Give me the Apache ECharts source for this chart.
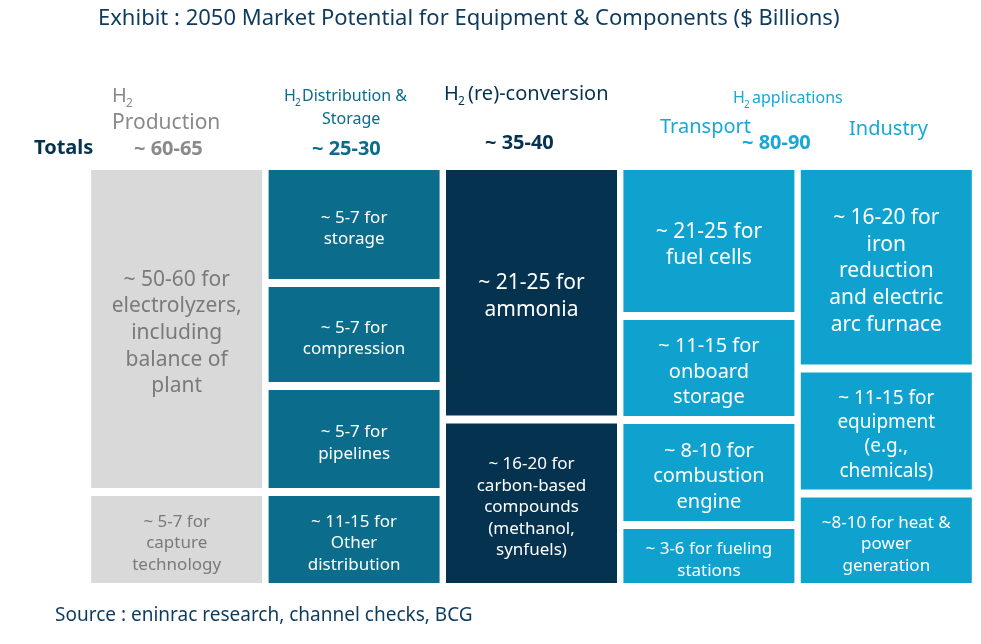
<!DOCTYPE html>
<html lang="en" style="height: 100%">
<head>
  <meta charset="utf-8">
</head>
<body style="height: 100%; margin: 0; background: #fff">
  <div id="container" style="height: 100%"></div>
  <script type="text/javascript" src="https://fastly.jsdelivr.net/npm/echarts@6.0.0/dist/echarts.min.js"></script>
  <script type="text/javascript">
    var dom = document.getElementById('container');
    var myChart = echarts.init(dom, null, { renderer: 'canvas' });

    // columns, left to right
    var columns = ['Production', 'Distribution', 'Conversion', 'Transport', 'Industry'];
    var colColors = ['#d9d9d9', '#0b6c8c', '#05324f', '#10a2cf', '#10a2cf'];
    var textColors = ['#7a7a7a', '#ffffff', '#ffffff', '#ffffff', '#ffffff'];

    // box sizes per column (top to bottom), as drawn in the exhibit
    var boxSizes = [
      [326, 95],
      [117, 103, 106, 95],
      [253.5, 167.5],
      [150, 104, 105, 62],
      [202.5, 125, 93.5]
    ];
    var boxLabels = [
      ['~ 50-60 for\nelectrolyzers,\nincluding\nbalance of\nplant', '~ 5-7 for\ncapture\ntechnology'],
      ['~ 5-7 for\nstorage', '~ 5-7 for\ncompression', '~ 5-7 for\npipelines', '~ 11-15 for\nOther\ndistribution'],
      ['~ 21-25 for\nammonia', '~ 16-20 for\ncarbon-based\ncompounds\n(methanol,\nsynfuels)'],
      ['~ 21-25 for\nfuel cells', '~ 11-15 for\nonboard\nstorage', '~ 8-10 for\ncombustion\nengine', '~ 3-6 for fueling\nstations'],
      ['~ 16-20 for\niron\nreduction\nand electric\narc furnace', '~ 11-15 for\nequipment\n(e.g.,\nchemicals)', '~8-10 for heat &\npower\ngeneration']
    ];
    var boxFont = [
      [21, 17],
      [17, 17, 17, 17],
      [21, 17],
      [21, 20, 20, 17],
      [21, 19, 17]
    ];

    var series = [];
    for (var level = 0; level < 4; level++) {
      var data = [];
      for (var c = 0; c < columns.length; c++) {
        var v = boxSizes[c][level];
        if (v === undefined) { data.push(null); continue; }
        data.push({
          value: v,
          name: boxLabels[c][level],
          itemStyle: { color: colColors[c] },
          label: { color: textColors[c], fontSize: boxFont[c][level], lineHeight: boxFont[c][level] * 1.27 }
        });
      }
      series.push({
        type: 'bar',
        stack: 'all',
        barWidth: 179,
        data: data,
        itemStyle: { borderColor: '#ffffff', borderWidth: 4 },
        label: {
          show: true,
          position: 'inside',
          offset: [0, 4],
          formatter: function (p) { return p.name; },
          fontFamily: 'Noto Sans'
        },
        silent: true
      });
    }

    var font = 'Noto Sans';
    function txt(x, y, text, size, color, weight, align) {
      return {
        type: 'text', left: x, top: y,
        style: { text: text, fontSize: size, fill: color, fontFamily: font, fontWeight: weight || 'normal', textAlign: align || 'left' }
      };
    }

    var option = {
      animation: false,
      grid: { left: 88, right: 6, top: 166, bottom: 57 },
      xAxis: { type: 'category', data: columns, show: false },
      yAxis: { type: 'value', inverse: true, min: 0, max: 421, show: false },
      series: series,
      graphic: [
        txt(98, 8, 'Exhibit : 2050 Market Potential for Equipment & Components ($ Billions)', 22, '#0d3b5e'),
        txt(112, 86, 'H', 20, '#8a8a8a'), txt(126, 98, '2', 12, '#8a8a8a'),
        txt(112, 113, 'Production', 21, '#8a8a8a'),
        txt(34, 138, 'Totals', 20, '#05324f', 'bold'),
        txt(134, 139, '~ 60-65', 20, '#8a8a8a', 'bold'),
        txt(284, 88, 'H', 16, '#0b6c8c'), txt(295, 98, '2', 10, '#0b6c8c'),
        txt(302, 88, 'Distribution &', 16, '#0b6c8c'),
        txt(322, 111, 'Storage', 16, '#0b6c8c'),
        txt(312, 139, '~ 25-30', 20, '#0b6c8c', 'bold'),
        txt(444, 84, 'H', 20, '#05324f'), txt(458, 96, '2', 12, '#05324f'),
        txt(468, 84, '(re)-conversion', 20, '#05324f'),
        txt(485, 133, '~ 35-40', 20, '#05324f', 'bold'),
        txt(733, 90, 'H', 16, '#19a7d6'), txt(744, 100, '2', 10, '#19a7d6'),
        txt(752, 90, 'applications', 16, '#19a7d6'),
        txt(660, 117, 'Transport', 20, '#19a7d6'),
        txt(849, 119, 'Industry', 20, '#19a7d6'),
        txt(742, 133, '~ 80-90', 20, '#19a7d6', 'bold'),
        txt(55, 606, 'Source : eninrac research, channel checks, BCG', 19, '#0d3b5e')
      ]
    };

    myChart.setOption(option);
    window.addEventListener('resize', myChart.resize);
  </script>
</body>
</html>
